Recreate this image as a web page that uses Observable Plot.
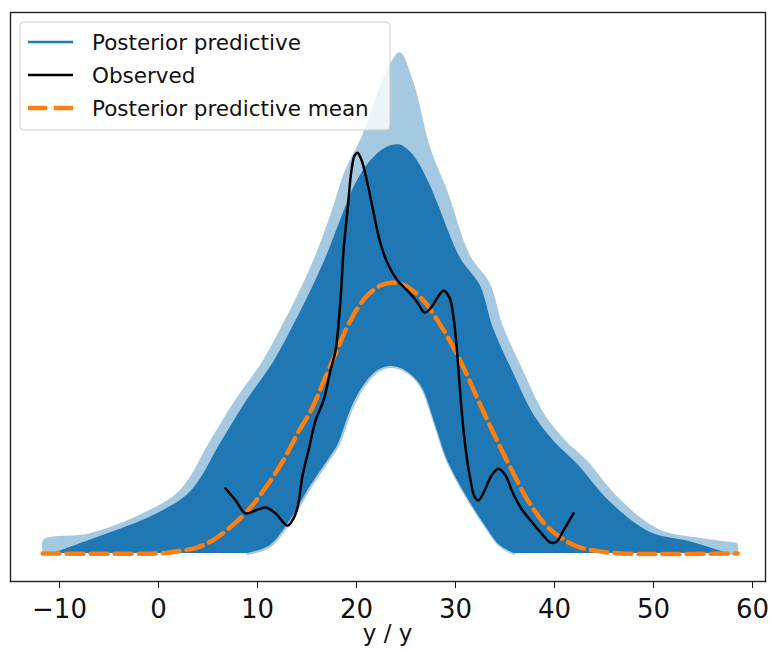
<!DOCTYPE html>
<html>
<head>
<meta charset="utf-8">
<script src="https://cdn.jsdelivr.net/npm/d3@7"></script>
<script src="https://cdn.jsdelivr.net/npm/@observablehq/plot@0.6"></script>
<style>
  html, body { margin: 0; padding: 0; background: white; }
  #chart { width: 769px; height: 650px; overflow: hidden; }
</style>
</head>
<body>
<div id="chart"></div>
<script>
// ---- Data (x = value, y = density) ----
const xTicks = [-10, 0, 10, 20, 30, 40, 50, 60];
const legendLabels = ["Posterior predictive", "Observed", "Posterior predictive mean"];
const xLabel = "y / y";

// Observed KDE
const obsX = [6.77,7.78,8.79,9.80,10.81,11.82,13.03,13.64,14.04,14.55,15.15,15.86,16.67,17.37,17.88,18.38,18.69,19.09,19.49,19.80,20.10,20.51,21.11,21.72,22.42,23.23,24.14,25.15,26.16,26.87,27.47,28.18,28.79,29.39,29.80,30.10,30.40,30.71,31.11,31.52,31.92,32.32,32.93,33.64,34.34,35.05,35.76,36.57,37.58,38.59,39.60,40.20,40.91,41.92];
const obsY = [0.0154,0.0126,0.0095,0.0102,0.0109,0.0095,0.0066,0.0083,0.0109,0.0185,0.0244,0.0315,0.0363,0.0434,0.0481,0.0600,0.0718,0.0813,0.0908,0.0943,0.0950,0.0932,0.0877,0.0808,0.0735,0.0683,0.0647,0.0623,0.0595,0.0571,0.0581,0.0607,0.0623,0.0607,0.0559,0.0493,0.0403,0.0315,0.0232,0.0173,0.0135,0.0126,0.0149,0.0185,0.0201,0.0185,0.0145,0.0109,0.0078,0.0050,0.0026,0.0028,0.0055,0.0095];

// Posterior predictive mean KDE
const meanX = [-11.7,0.0,0.9,2.4,3.9,5.8,8.0,9.3,10.6,11.8,13.0,14.1,15.4,16.6,17.8,18.9,20.1,21.2,22.4,23.5,24.6,25.8,27.0,28.2,29.4,30.8,32.3,33.8,35.6,37.3,38.9,40.6,42.6,44.6,46.7,58.5];
const meanY = [0,0,0.0002,0.0007,0.0014,0.0036,0.0078,0.0109,0.0149,0.0190,0.0237,0.0287,0.0339,0.0403,0.0469,0.0529,0.0581,0.0614,0.0635,0.0642,0.0638,0.0621,0.0593,0.0552,0.0505,0.0441,0.0363,0.0287,0.0201,0.0126,0.0073,0.0038,0.0014,0.0005,0,0];

// Posterior predictive draws: outer (faint) upper envelope
const outerX = [-11.6,-11.6,-6.9,-1.5,2.2,5.3,7.8,10.6,12.8,14.3,15.9,17.4,18.9,20.4,21.4,22.9,24.4,25.8,27.5,29.2,31.5,33.5,34.8,36.6,39.0,41.1,43.3,46.7,50.7,54.7,58.5,58.5];
const outerY = [0,0.0031,0.0047,0.0095,0.0149,0.0268,0.0363,0.0457,0.0552,0.0623,0.0706,0.0801,0.0908,0.0979,0.1038,0.1133,0.1187,0.1116,0.0960,0.0860,0.0706,0.0640,0.0540,0.0446,0.0330,0.0268,0.0220,0.0126,0.0055,0.0036,0.0024,0];

// Posterior predictive draws: dense (solid) upper envelope
const solidX = [-10.6,-5.9,-0.5,3.2,6.3,8.8,11.6,13.8,15.3,16.9,18.4,19.9,21.4,23.0,24.4,25.8,27.3,28.2,30.5,32.5,33.8,35.6,38.0,40.1,42.3,45.7,49.7,53.7,57.5];
const solidY = [0,0.0040,0.0090,0.0145,0.0262,0.0358,0.0452,0.0548,0.0618,0.0700,0.0790,0.0875,0.0930,0.0962,0.0968,0.0942,0.0880,0.0830,0.0700,0.0635,0.0535,0.0440,0.0325,0.0262,0.0212,0.0120,0.0050,0.0028,0];

// Posterior predictive draws: lower envelope (empty region beneath)
const holeX = [9.0,11.3,13.3,15.4,17.1,18.1,19.4,20.4,21.9,23.4,24.9,26.5,28.0,29.2,31.0,33.0,34.5,35.9];
const holeY = [0,0.0019,0.0078,0.0161,0.0220,0.0256,0.0339,0.0386,0.0429,0.0443,0.0434,0.0398,0.0303,0.0220,0.0140,0.0066,0.0019,0];

const zip = (xs, ys) => xs.map((x, i) => ({x, y: ys[i]}));
const obs = zip(obsX, obsY);
const mean = zip(meanX, meanY);
const outer = zip(outerX, outerY);
const solid = zip(solidX, solidY);
const hole = zip(holeX, holeY);

const BLUE = "#1f77b4", ORANGE = "#ff7f0e";

const plot = Plot.plot({
  width: 769,
  height: 650,
  marginLeft: 10,
  marginRight: 4,
  marginTop: 12,
  marginBottom: 69,
  style: {fontFamily: "DejaVu Sans", background: "white", color: "#111"},
  x: {domain: [-14.95, 61.31]},
  y: {domain: [-0.00664, 0.12823], axis: null},
  marks: [
    Plot.areaY(outer, {x: "x", y: "y", fill: BLUE, fillOpacity: 0.4, curve: "catmull-rom"}),
    Plot.areaY(solid, {x: "x", y: "y", fill: BLUE, curve: "catmull-rom"}),
    Plot.areaY(hole, {x: "x", y: "y", fill: "white", curve: "catmull-rom"}),
    Plot.line(hole, {x: "x", y: "y", stroke: BLUE, strokeOpacity: 0.4, strokeWidth: 3, curve: "catmull-rom"}),
    Plot.line(mean, {x: "x", y: "y", stroke: ORANGE, strokeWidth: 4.5, strokeDasharray: "17 7", curve: "catmull-rom"}),
    Plot.line(obs, {x: "x", y: "y", stroke: "black", strokeWidth: 2.5, curve: "catmull-rom"}),
    Plot.frame({stroke: "#222", strokeWidth: 1.4}),
    Plot.axisX({
      ticks: xTicks,
      tickSize: 7,
      tickPadding: 11,
      fontSize: 26,
      label: null,
      tickFormat: d => (d < 0 ? "\u2212" + Math.abs(d) : String(d))
    })
  ]
});

document.getElementById("chart").appendChild(plot);

// Legend and axis label drawn into the same SVG
const svg = d3.select(plot);
const lg = svg.append("g")
  .attr("font-family", "DejaVu Sans")
  .attr("font-size", 21.5)
  .attr("text-anchor", "start");
lg.append("rect")
  .attr("x", 20).attr("y", 22).attr("width", 370).attr("height", 108)
  .attr("rx", 4).attr("fill", "white").attr("fill-opacity", 0.8)
  .attr("stroke", "#cccccc").attr("stroke-width", 1);
const entries = [
  {label: legendLabels[0], color: BLUE, dash: null},
  {label: legendLabels[1], color: "black", dash: null},
  {label: legendLabels[2], color: ORANGE, dash: "19 7"}
];
entries.forEach((e, i) => {
  const cy = 42 + i * 33;
  lg.append("line")
    .attr("x1", 28).attr("x2", 73).attr("y1", cy).attr("y2", cy)
    .attr("stroke", e.color)
    .attr("stroke-width", e.dash ? 4.5 : 2.5)
    .attr("stroke-dasharray", e.dash);
  lg.append("text")
    .attr("x", 92).attr("y", cy + 8)
    .attr("text-anchor", "start")
    .attr("fill", "#111")
    .text(e.label);
});
svg.append("text")
  .attr("x", 387.5).attr("y", 641)
  .attr("text-anchor", "middle")
  .attr("font-family", "DejaVu Sans")
  .attr("font-size", 23)
  .attr("fill", "#111")
  .text(xLabel);
</script>
</body>
</html>
